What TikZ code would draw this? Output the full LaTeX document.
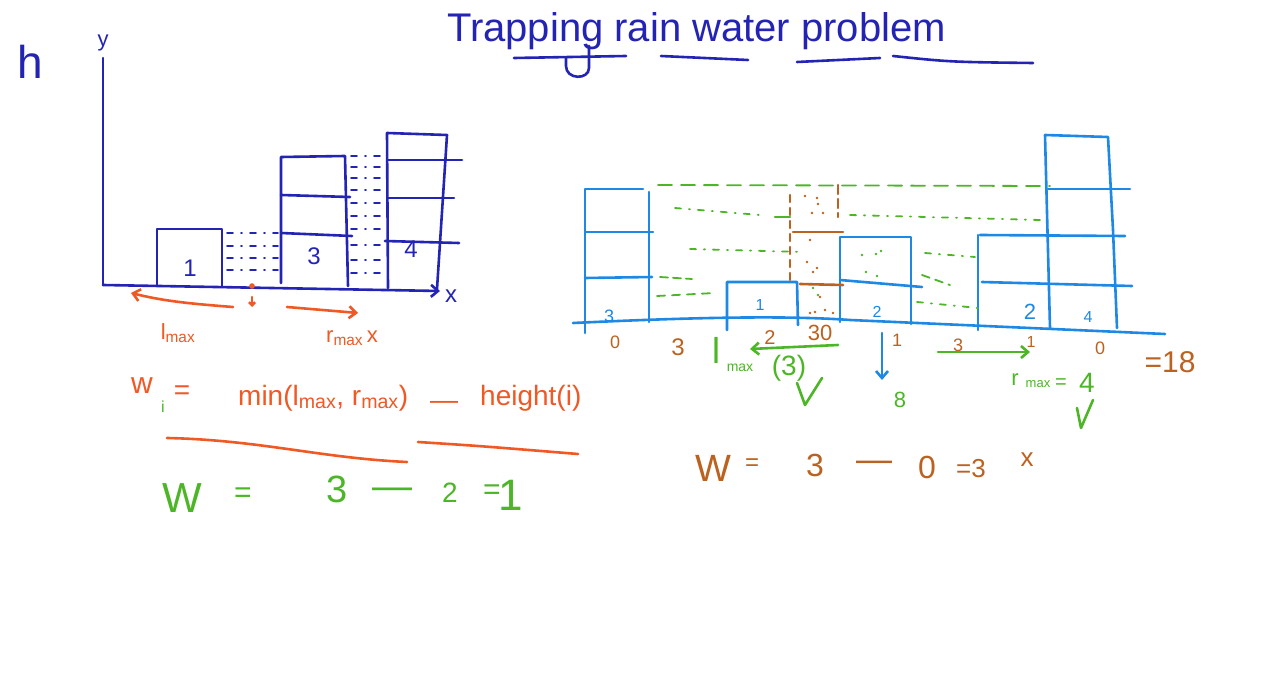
\documentclass[tikz,border=0pt]{standalone}
\usepackage{fontspec}
\setmainfont{Liberation Sans}
\usetikzlibrary{positioning, arrows.meta}
\definecolor{penblue}{RGB}{36,36,180}
\definecolor{skyblue}{RGB}{30,136,229}
\definecolor{penorange}{RGB}{240,88,36}
\definecolor{pengreen}{RGB}{76,182,38}
\definecolor{penbrown}{RGB}{188,98,32}

\begin{document}
\begin{tikzpicture}[x=1pt,y=-1pt,
            ink/.style={line width=2.6pt,line cap=round,line join=round},
            bar/.style={ink,draw=penblue},
            tank/.style={ink,draw=skyblue},
            ripple/.style={line width=1.8pt,line cap=round,
                           dash pattern=on 6pt off 8pt on 1pt off 8pt},
            pen/.style={inner sep=0pt,font=\fontsize{#1}{#1}\selectfont},
            pen/.default=24,
            arrow/.style={ink,-{Straight Barb[length=7pt,width=12pt]}}]
        \fill[white] (0,0) rectangle (1280,684);
        \useasboundingbox (0,0) rectangle (1280,684);
        % title
        \node[pen=40,penblue,anchor=base west] (title) at (447,42) {Trapping rain water problem};
        \draw[bar] (514,58) -- (626,56);
        \draw[bar] (589,46) -- (589,68) .. controls (589,80) and (566,80) .. (566,66) -- (566,58);
        \draw[bar] (661,56) -- (748,60);
        \draw[bar] (797,62) -- (880,58);
        \draw[bar] (893,56) .. controls (950,62) .. (1033,63);
        % left chart
        \node[pen=46,penblue] (h) at (30,62) {h};
        \coordinate (O) at (103,285);
        \coordinate (ytop) at (103,58);
        \coordinate (xend) at (440,291);
        \draw[bar] (ytop) -- (O);
        \draw[bar,-{Straight Barb[length=7pt,width=12pt]}] (O) -- (xend);
        \node[pen=22,penblue,above=7pt of ytop] (ylab) {y};
        \node[pen=24,penblue] (xlab) at (451,296) {x};
        \draw[bar] (157,285) -- (157,229) -- (222,229) -- (222,287);
        \draw[bar] (281,283) -- (281,157) -- (345,156) -- (348,286);
        \draw[bar] (281,195) -- (350,197);
        \draw[bar] (281,233) -- (352,236);
        \draw[bar] (388,288) -- (387,133) -- (447,135) -- (437,289);
        \draw[bar] (388,160) -- (462,160);
        \draw[bar] (388,198) -- (454,198);
        \draw[bar] (385,241) -- (459,243);
        \node[pen=24,penblue] (hA) at (190,268) {1};
        \node[pen=24,penblue] (hB) at (314,256) {3};
        \node[pen=24,penblue] (hC) at (411,249) {4};
        \foreach \y in {233,246,258,270}
            \draw[ripple,penblue] (227,\y) -- (278,\y);
        \foreach \y in {156,167,178,190,203,216,229,245,260,273}
            \draw[ripple,penblue] (351,\y) -- (384,\y);
        % scan position
        \coordinate (pos) at (252,286);
        \fill[penorange] (pos) circle (2.8);
        \coordinate (posA) at (252,297);
        \coordinate (posB) at (252,307);
        \draw[ink,penorange,-{Straight Barb[length=3pt,width=6pt]}] (posA) -- (posB);
        \coordinate (leftA) at (233,307);
        \coordinate (leftB) at (131,293);
        \coordinate (rightA) at (287,307);
        \coordinate (rightB) at (358,313);
        \draw[arrow,penorange] (leftA) .. controls (180,303) and (160,300) .. (leftB);
        \draw[arrow,penorange] (rightA) -- (rightB);
        \node[pen=22,penorange] (lmax) at (178,333) {l\textsubscript{max}};
        \node[pen=22,penorange] (rmax) at (352,338) {r\textsubscript{max}\,x};
        % formula
        \node[pen=30,penorange] (wsym) at (142,386) {w};
        \node[pen=16,pengreen] (isub) at (163,407) {i};
        \node[pen=28,penorange] (eqA) at (182,393) {=};
        \node[pen=28,penorange,anchor=west] (minexpr) at (238,398) {min(l\textsubscript{max}, r\textsubscript{max})};
        \node[pen=28,penorange] (minus) at (444,405) {—};
        \node[pen=28,penorange,anchor=west] (hgt) at (480,398) {height(i)};
        \draw[ink,penorange] (167,438) .. controls (260,440) and (320,458) .. (407,462);
        \draw[ink,penorange] (418,442) .. controls (480,446) .. (578,454);
        % first result
        \node[pen=42,pengreen] (wA) at (182,498) {W};
        \node[pen=30,pengreen] (wAeq) at (243,495) {=};
        \node[pen=38,pengreen] (wAl) at (337,489) {3};
        \node[pen=40,pengreen] (wAm) at (392,494) {—};
        \node[pen=28,pengreen] (wAr) at (450,493) {2};
        \node[pen=30,pengreen] (wAeqB) at (492,492) {=};
        \node[pen=44,pengreen] (wAres) at (511,495) {1};
        % right chart
        \draw[tank] (573,323) .. controls (680,318) and (780,315) .. (850,320) -- (1165,334);
        \draw[tank] (585,333) -- (585,189) -- (643,189);
        \draw[tank] (649,192) -- (649,322);
        \draw[tank] (585,232) -- (653,232);
        \draw[tank] (585,278) -- (652,277);
        \draw[tank] (727,330) -- (727,282) -- (797,282) -- (798,325);
        \draw[tank] (840,322) -- (840,237) -- (911,237) -- (911,324);
        \draw[tank] (840,280) -- (922,287);
        \draw[tank] (978,330) -- (978,235);
        \draw[tank] (980,235) -- (1125,236);
        \draw[tank] (982,282) -- (1132,286);
        \draw[tank] (1050,328) -- (1045,135) -- (1108,137) -- (1113,230) -- (1117,328);
        \draw[tank] (1048,189) -- (1130,189);
        \node[pen=18,skyblue] (bA) at (609,316) {3};
        \node[pen=16,skyblue] (bB) at (760,305) {1};
        \node[pen=16,skyblue] (bC) at (877,312) {2};
        \node[pen=22,skyblue] (bD) at (1030,312) {2};
        \node[pen=16,skyblue] (bE) at (1088,317) {4};
        % trapped water
        \draw[ripple,pengreen,dash pattern=on 14pt off 9pt] (658,185) -- (1050,186);
        \draw[ripple,pengreen] (675,208) -- (760,215);
        \draw[ink,pengreen] (775,217) -- (790,217);
        \draw[ripple,pengreen] (850,215) -- (1040,220);
        \draw[ripple,pengreen] (690,249) -- (803,252);
        \draw[ripple,pengreen,dash pattern=on 8pt off 5pt] (660,277) -- (692,279);
        \draw[ripple,pengreen,dash pattern=on 8pt off 7pt] (657,296) -- (715,293);
        \draw[ripple,pengreen] (925,253) -- (975,257);
        \draw[ripple,pengreen,dash pattern=on 8pt off 6pt] (922,275) -- (950,285);
        \draw[ripple,pengreen] (917,302) -- (978,308);
        \foreach \p in {(862,255),(876,254),(881,251),(866,272),(877,276),(813,288),(818,295)}
            \fill[pengreen] \p circle (1.3);
        \draw[ink,penbrown,dash pattern=on 7pt off 6pt] (790,195) -- (790,282);
        \draw[ink,penbrown,dash pattern=on 9pt off 5pt] (838,185) -- (838,217);
        \draw[ink,penbrown] (793,232) -- (843,232);
        \draw[ink,penbrown] (800,284) -- (843,285);
        \foreach \p in {(805,196),(817,198),(818,204),(812,213),(823,213),(810,240),(807,262),
                        (813,272),(817,268),(820,297),(815,312),(825,310),(833,313),(810,313)}
            \fill[penbrown] \p circle (1.4);
        % sums below the bars
        \node[pen=18,penbrown] (cA) at (615,342) {0};
        \node[pen=24,penbrown] (cB) at (678,347) {3};
        \node[pen=36,pengreen] (lm) at (716,350) {l};
        \node[pen=14,pengreen] (lmsub) at (740,368) {max};
        \node[pen=28,pengreen] (lmval) at (789,368) {(3)};
        \coordinate (lmA) at (838,345);
        \coordinate (lmB) at (750,349);
        \draw[arrow,pengreen] (lmA) -- (lmB);
        \node[pen=20,penbrown] (cC) at (770,338) {2};
        \node[pen=22,penbrown] (cD) at (820,333) {30};
        \coordinate (curA) at (882,333);
        \coordinate (curB) at (882,380);
        \draw[ink,skyblue,-{Straight Barb[length=7pt,width=12pt]}] (curA) -- (curB);
        \node[pen=18,penbrown] (cE) at (897,340) {1};
        \node[pen=22,pengreen] (cur) at (900,400) {8};
        \node[pen=18,penbrown] (cF) at (958,345) {3};
        \coordinate (rmA) at (938,352);
        \coordinate (rmB) at (1030,352);
        \draw[arrow,pengreen] (rmA) -- (rmB);
        \node[pen=16,penbrown] (cG) at (1031,342) {1};
        \node[pen=18,penbrown] (cH) at (1100,348) {0};
        \node[pen=30,penbrown] (total) at (1170,362) {=18};
        \node[pen=22,pengreen] (rm) at (1015,380) {r};
        \node[pen=13,pengreen] (rmsub) at (1038,384) {max};
        \node[pen=20,pengreen] (rmeq) at (1061,384) {=};
        \node[pen=28,pengreen] (rmval) at (1087,383) {4};
        \draw[ink,pengreen] (797,383) -- (805,405) -- (822,378);
        \draw[ink,pengreen] (1077,408) -- (1081,428) -- (1093,400);
        % second result
        \node[pen=38,penbrown] (wB) at (713,468) {W};
        \node[pen=24,penbrown] (wBeq) at (752,465) {=};
        \node[pen=32,penbrown] (wBl) at (815,465) {3};
        \node[pen=36,penbrown] (wBm) at (874,466) {—};
        \node[pen=32,penbrown] (wBr) at (927,467) {0};
        \node[pen=26,penbrown] (wBres) at (971,469) {=3};
        \node[pen=26,penbrown] (wBx) at (1027,460) {x};
\end{tikzpicture}
\end{document}
